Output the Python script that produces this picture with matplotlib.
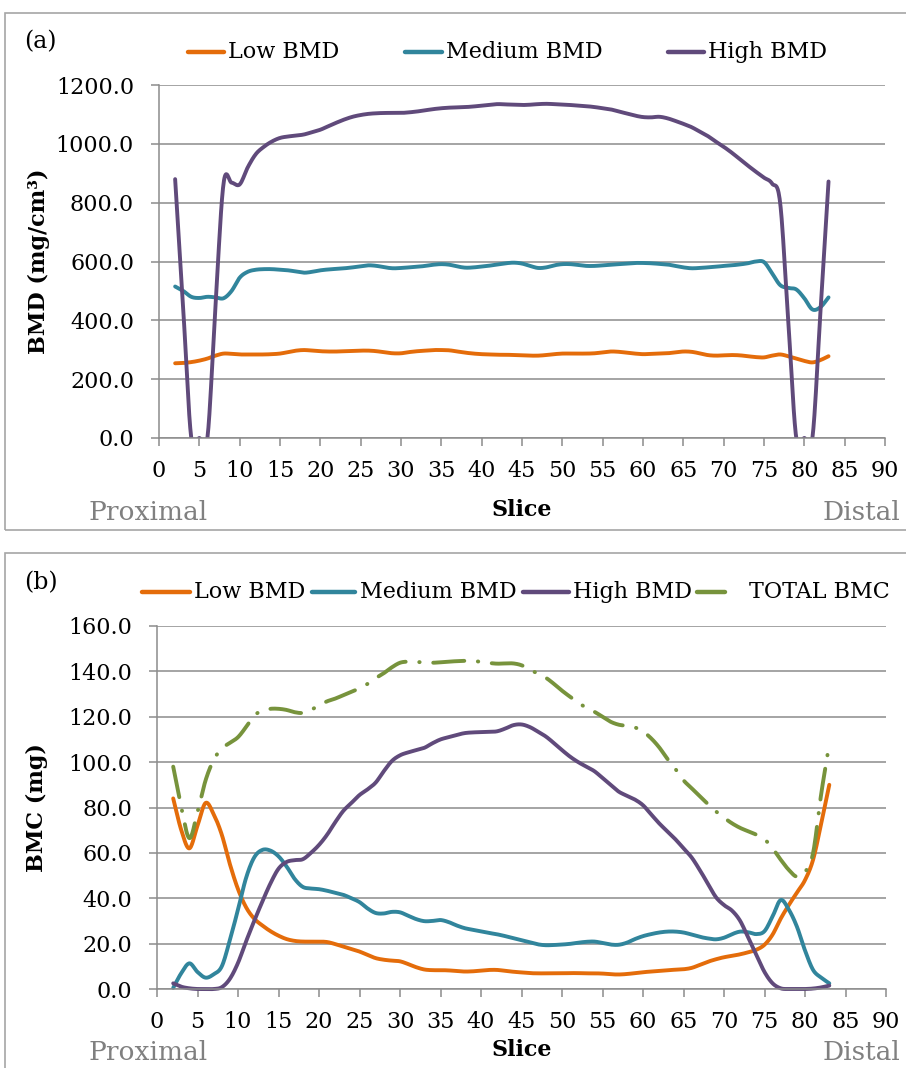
import numpy as np
import matplotlib
matplotlib.use("Agg")
import matplotlib.pyplot as plt
from matplotlib.lines import Line2D
from matplotlib.patches import Rectangle

plt.rcParams['font.family'] = 'DejaVu Serif'

# slices 2..83
slices = list(range(2, 84))

# (a) mean BMD per slice, mg/cm3
bmd_low = [254, 255, 258, 263, 270, 280, 287, 286, 284, 284, 284, 284, 285, 287, 292, 297,
           299, 297, 295, 294, 294, 295, 296, 297, 297, 295, 291, 288, 288, 292, 295, 297,
           299, 299, 298, 294, 290, 287, 285, 284, 283, 283, 282, 281, 280, 280, 282, 285,
           287, 287, 287, 287, 288, 291, 294, 293, 290, 287, 285, 286, 287, 288, 291, 294,
           293, 288, 282, 280, 281, 282, 281, 278, 275, 274, 280, 284, 278, 270, 262, 257,
           265, 278]
bmd_medium = [515, 500, 480, 476, 480, 478, 475, 500, 545, 565, 572, 574, 574, 572, 570, 566,
              562, 565, 570, 573, 575, 577, 580, 584, 587, 585, 580, 577, 578, 580, 582, 585,
              589, 591, 589, 583, 579, 580, 583, 586, 590, 594, 596, 593, 585, 578, 580, 587,
              591, 591, 588, 585, 585, 587, 589, 591, 593, 595, 595, 594, 592, 590, 585, 580,
              577, 578, 580, 582, 585, 587, 590, 594, 600, 598, 560, 520, 510, 505, 475, 437,
              445, 478]
bmd_high = [880, 440, 0, 0, 0, 450, 865, 868, 862, 920, 965, 990, 1008, 1020, 1025, 1028,
            1032, 1040, 1048, 1060, 1072, 1083, 1092, 1098, 1102, 1104, 1105, 1105, 1105, 1107,
            1110, 1114, 1118, 1121, 1123, 1124, 1125, 1127, 1130, 1133, 1135, 1134, 1133, 1132,
            1133, 1135, 1136, 1135, 1134, 1132, 1130, 1128, 1125, 1121, 1117, 1110, 1103, 1096,
            1091, 1090, 1092, 1087, 1078, 1068, 1057, 1042, 1027, 1008, 990, 970, 948, 926,
            905, 885, 865, 800, 400, 0, 0, 0, 430, 872]

# (b) BMC per slice, mg
bmc_low = [84, 70, 62, 72, 82, 77, 68, 55, 44, 36, 31, 28, 25.5, 23.5, 22, 21.2, 20.9, 20.9,
           20.9, 20.7, 19.8, 18.7, 17.6, 16.5, 15, 13.6, 12.9, 12.5, 12.2, 11, 9.6, 8.6, 8.3,
           8.3, 8.2, 7.9, 7.7, 7.8, 8.1, 8.4, 8.4, 8.0, 7.6, 7.3, 7.0, 6.9, 6.9, 6.9, 6.9, 7.0,
           7.0, 6.9, 6.9, 6.8, 6.5, 6.4, 6.6, 7.0, 7.4, 7.7, 8.0, 8.3, 8.5, 8.7, 9.3, 10.6,
           12.0, 13.1, 14.0, 14.6, 15.3, 16.2, 17.3, 19.5, 24, 31, 37, 42.5, 48, 57, 73, 90]
bmc_medium = [0.5, 7, 11.3, 7.5, 5, 6.5, 10, 21.6, 35, 49, 58, 61.3, 61, 58.5, 54, 48.5, 45,
              44.3, 44, 43.3, 42.4, 41.5, 40, 38.3, 35.5, 33.5, 33.3, 34, 33.8, 32.3, 30.8,
              29.9, 30, 30.4, 29.5, 28, 26.8, 26.1, 25.4, 24.7, 24.1, 23.3, 22.4, 21.5, 20.6,
              19.7, 19.3, 19.4, 19.6, 19.9, 20.4, 20.8, 20.9, 20.3, 19.6, 19.5, 20.4, 22, 23.3,
              24.2, 24.9, 25.3, 25.3, 24.9, 24.0, 23.0, 22.3, 21.9, 22.6, 24.2, 25.3, 25.0,
              24.2, 25.5, 32, 39.2, 35, 27.5, 17, 8.4, 5, 2.5]
bmc_high = [2.5, 1, 0.3, 0, 0, 0, 0.8, 4.5, 11.5, 21, 30, 38.5, 46.5, 53, 56, 56.8, 57.2, 60,
            63.5, 68, 73.5, 78.5, 82, 85.5, 88, 91, 96, 100.5, 103, 104.3, 105.3, 106.3, 108.3,
            110, 111, 112, 112.8, 113.1, 113.2, 113.3, 113.6, 114.8, 116.3, 116.6, 115.5,
            113.5, 111.3, 108.4, 105.3, 102.4, 100, 98, 96, 93, 90, 87, 85.2, 83.5, 81, 77, 73,
            69.5, 66, 62, 58, 52.5, 46.5, 40.5, 37, 34.5, 30, 22.5, 15, 7.5, 2.5, 0.3, 0, 0, 0,
            0.2, 0.7, 1.5]
bmc_total = [98, 80, 66.5, 78, 92, 101, 106, 108.5, 111, 115.5, 120.5, 122.7, 123.5, 123.5,
             123, 122, 121.7, 123, 125, 126.8, 128, 129.5, 131, 132.5, 134.5, 137, 139.2,
             141.8, 143.8, 144.3, 144.2, 143.9, 143.8, 144, 144.3, 144.5, 144.7, 144.6, 144.2,
             143.7, 143.4, 143.5, 143.5, 142.7, 140.9, 139, 137.2, 134.5, 131.5, 128.8, 126.2,
             124, 122.2, 120, 117.8, 116.5, 116, 115.3, 113.5, 110.5, 106.5, 101.5, 97, 92,
             88.5, 85, 81.5, 78.3, 75.5, 73, 71, 69.5, 68, 66, 62, 57, 52.5, 49.5, 51.5, 60,
             86, 108]

labels_a = ['Low BMD', 'Medium BMD', 'High BMD']
labels_b = ['Low BMD', 'Medium BMD', 'High BMD', 'TOTAL BMC']

ORANGE = '#E46C0A'
TEAL = '#31859C'
PURPLE = '#604A7B'
GREEN = '#77933C'
GRID = '#8c8c8c'

W, H = 906, 1068


def smooth(x, y, n=16):
    # Catmull-Rom spline through the points (same look as a smoothed office chart line)
    x = np.asarray(x, float)
    y = np.asarray(y, float)
    xp = np.concatenate([[2 * x[0] - x[1]], x, [2 * x[-1] - x[-2]]])
    yp = np.concatenate([[2 * y[0] - y[1]], y, [2 * y[-1] - y[-2]]])
    t = np.linspace(0, 1, n, endpoint=False)[:, None]
    xs, ys = [], []
    for i in range(len(x) - 1):
        px = xp[i:i + 4]
        py = yp[i:i + 4]
        b = np.hstack([-t**3 + 2 * t**2 - t, 3 * t**3 - 5 * t**2 + 2,
                       -3 * t**3 + 4 * t**2 + t, t**3 - t**2]) / 2
        xs.append(b @ px)
        ys.append(b @ py)
    xs.append([x[-1]])
    ys.append([y[-1]])
    return np.concatenate(xs), np.concatenate(ys)


def style_axes(ax, ymax, ystep):
    ax.set_xlim(0, 90)
    ax.set_ylim(0, ymax)
    ax.set_xticks(np.arange(0, 91, 5))
    ax.set_yticks(np.arange(0, ymax + 1, ystep))
    ax.yaxis.set_major_formatter(plt.FormatStrFormatter('%.1f'))
    ax.grid(axis='y', color=GRID, lw=1.1)
    ax.set_axisbelow(True)
    for s in ['top', 'right']:
        ax.spines[s].set_visible(False)
    for s in ['left', 'bottom']:
        ax.spines[s].set_color(GRID)
        ax.spines[s].set_linewidth(1.1)
    ax.tick_params(axis='both', direction='out', length=6, width=1.1, color=GRID,
                   labelsize=16)
    ax.tick_params(axis='y', pad=12)
    ax.tick_params(axis='x', pad=10)


def legend_row(y, entries):
    for x0, x1, xt, label, color in entries:
        fig.add_artist(Line2D([x0 / W, x1 / W], [1 - y / H] * 2, color=color, lw=3.2,
                              solid_capstyle='round'))
        fig.text(xt / W, 1 - y / H, label, ha='left', va='center', fontsize=16)


def panel_box(top, bottom):
    fig.add_artist(Rectangle((5 / W, 1 - bottom / H), 1.2, (bottom - top) / H,
                             transform=fig.transFigure, fill=False, ec='#a6a6a6', lw=1.2))


def side_labels(y):
    fig.text(88 / W, 1 - y / H, 'Proximal', fontsize=19, color='#808080', va='center')
    fig.text(900 / W, 1 - y / H, 'Distal', fontsize=19, color='#808080', va='center',
             ha='right')
    fig.text(522 / W, 1 - (y - 3) / H, 'Slice', fontsize=16, fontweight='bold',
             va='center', ha='center')


fig = plt.figure(figsize=(W / 100, H / 100), dpi=100)
panel_box(13, 530)
panel_box(553, 1080)

# ---- (a) BMD ----
ax1 = fig.add_axes([159 / W, 1 - 438 / H, 726 / W, 353 / H])
style_axes(ax1, 1200, 200)
for vals, col in zip([bmd_low, bmd_medium, bmd_high], [ORANGE, TEAL, PURPLE]):
    sx, sy = smooth(slices, vals)
    ax1.plot(sx, sy, color=col, lw=2.8, solid_capstyle='round')
ax1.set_ylabel('BMD (mg/cm³)', fontsize=16, fontweight='bold')
ax1.yaxis.set_label_coords(-0.150, 0.5)

fig.text(24 / W, 1 - 42 / H, '(a)', fontsize=17, va='center')
legend_row(52, [(188, 224, 228, labels_a[0], ORANGE),
                (405, 442, 446, labels_a[1], TEAL),
                (668, 704, 708, labels_a[2], PURPLE)])
side_labels(513)

# ---- (b) BMC ----
ax2 = fig.add_axes([157 / W, 1 - 989 / H, 729 / W, 363 / H])
style_axes(ax2, 160, 20)
for vals, col in zip([bmc_low, bmc_medium, bmc_high], [ORANGE, TEAL, PURPLE]):
    sx, sy = smooth(slices, vals)
    ax2.plot(sx, sy, color=col, lw=2.8, solid_capstyle='round', clip_on=False)
sx, sy = smooth(slices, bmc_total)
ax2.plot(sx, sy, color=GREEN, lw=2.8, dashes=(8, 3.5, 0.1, 3.5), dash_capstyle='round',
         clip_on=False)
ax2.set_ylabel('BMC (mg)', fontsize=16, fontweight='bold')
ax2.yaxis.set_label_coords(-0.149, 0.5)

fig.text(24 / W, 1 - 583 / H, '(b)', fontsize=17, va='center')
legend_row(592, [(142, 190, 194, labels_b[0], ORANGE),
                 (312, 355, 360, labels_b[1], TEAL),
                 (523, 569, 573, labels_b[2], PURPLE),
                 (697, 725, 749, labels_b[3], GREEN)])
side_labels(1053)

fig.savefig('out.png', dpi=100)
